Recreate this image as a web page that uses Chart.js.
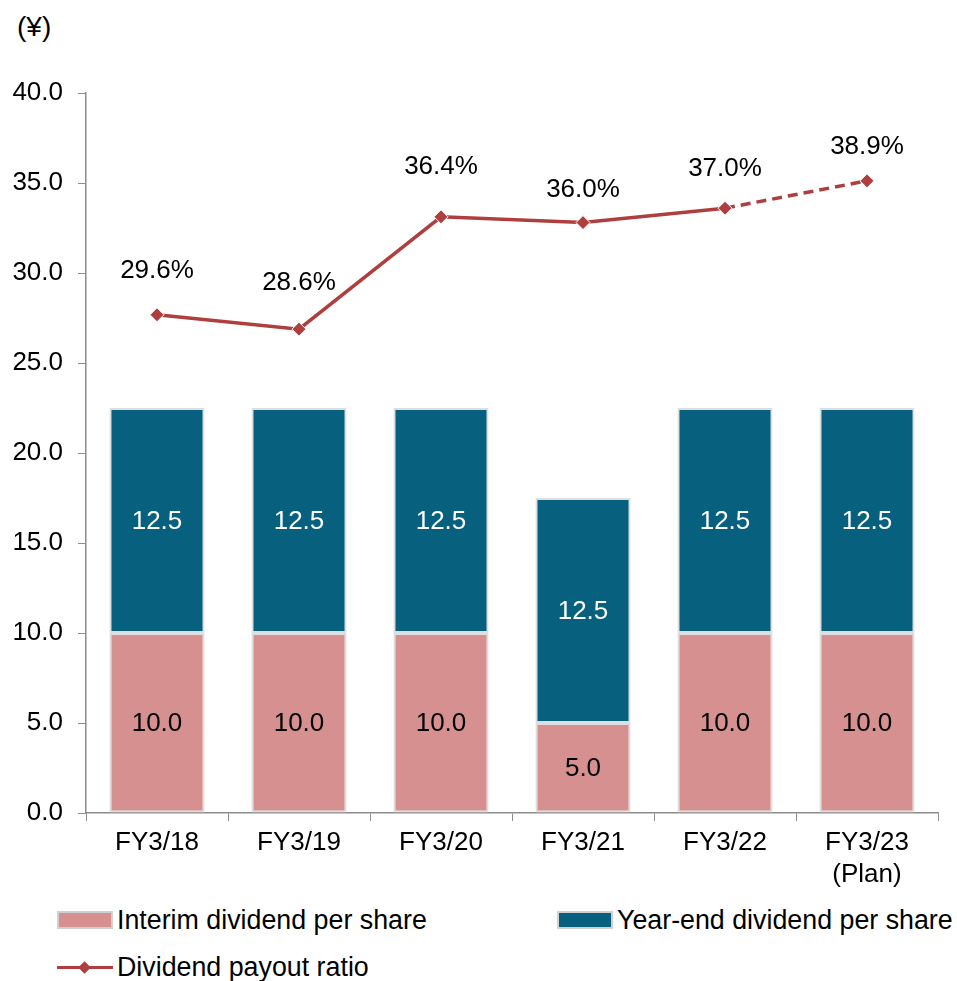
<!DOCTYPE html>
<html>
<head>
<meta charset="utf-8">
<script src="https://cdn.jsdelivr.net/npm/chart.js@4/dist/chart.umd.min.js"></script>
<style>
  html, body { margin: 0; padding: 0; background: #fff; }
  body { width: 957px; height: 981px; position: relative; overflow: hidden;
         font-family: "Liberation Sans", Arial, sans-serif; color: #000; }
  #unit { position: absolute; left: 17px; top: 10px; font-size: 28px; line-height: 34px; }
  #wrap { position: absolute; left: 0; top: 0; width: 957px; height: 900px; }
  .lg { position: absolute; display: flex; align-items: center; font-size: 26.8px; height: 34px; white-space: nowrap; }
  .box { width: 56px; height: 18px; box-sizing: border-box; border: 2px solid #d0d0d0; margin-right: 4px; }
  .ln { position: relative; width: 56px; height: 17px; margin-right: 4px; }
  .ln .bar { position: absolute; left: 0; right: 0; top: 7px; height: 3px; }
  .ln .dia { position: absolute; left: 23px; top: 4px; width: 9px; height: 9px; transform: rotate(45deg); }
</style>
</head>
<body>
<div id="unit">(¥)</div>
<div id="wrap"><canvas id="c" width="957" height="900"></canvas></div>
<div id="legend"></div>
<script>
// ---- data ----
const categories = ['FY3/18', 'FY3/19', 'FY3/20', 'FY3/21', 'FY3/22', ['FY3/23', '(Plan)']];
const interimDividend = [10.0, 10.0, 10.0, 5.0, 10.0, 10.0];
const yearEndDividend = [12.5, 12.5, 12.5, 12.5, 12.5, 12.5];
const payoutRatio = [29.6, 28.6, 36.4, 36.0, 37.0, 38.9];
const yTicks = [0, 5, 10, 15, 20, 25, 30, 35, 40];
const seriesNames = ['Interim dividend per share', 'Year-end dividend per share', 'Dividend payout ratio'];

// ---- styles ----
const PINK = '#D69090';
const TEAL = '#08607F';
const RED = '#AE3F3E';
const AXIS = '#8c8c8c';
const FONT = { family: '"Liberation Sans", Arial, sans-serif', size: 26 };
const ratioLabelLift = [44, 46, 50, 33, 39, 34]; // label placement above points (px)

const planStart = categories.findIndex(c => Array.isArray(c) && c.includes('(Plan)'));

const labelPlugin = {
  id: 'valueLabels',
  afterDatasetsDraw(chart) {
    const ctx = chart.ctx;
    ctx.save();
    ctx.font = `${FONT.size}px ${FONT.family}`;
    ctx.textAlign = 'center';
    ctx.textBaseline = 'middle';
    chart.data.datasets.forEach((ds, di) => {
      const meta = chart.getDatasetMeta(di);
      meta.data.forEach((el, i) => {
        const v = ds.data[i];
        if (ds.type === 'line') {
          ctx.fillStyle = '#000';
          ctx.fillText(v.toFixed(1) + '%', el.x, el.y - ratioLabelLift[i]);
        } else {
          ctx.fillStyle = ds.labelColor;
          ctx.fillText(v.toFixed(1), el.x, (el.y + el.base) / 2 + 1);
        }
      });
    });
    ctx.restore();
  }
};

const chart = new Chart(document.getElementById('c'), {
  data: {
    labels: categories,
    datasets: [
      {
        type: 'bar', label: seriesNames[0], data: interimDividend,
        backgroundColor: PINK, borderColor: '#dedede', borderWidth: 2, borderSkipped: false,
        barPercentage: 0.67, categoryPercentage: 1, order: 1, stack: 's', yAxisID: 'y', labelColor: '#000'
      },
      {
        type: 'bar', label: seriesNames[1], data: yearEndDividend,
        backgroundColor: TEAL, borderColor: '#dedede', borderWidth: 2, borderSkipped: false,
        barPercentage: 0.67, categoryPercentage: 1, order: 1, stack: 's', yAxisID: 'y', labelColor: '#fff'
      },
      {
        type: 'line', label: seriesNames[2], data: payoutRatio, yAxisID: 'y2', order: 0,
        borderColor: RED, backgroundColor: RED, borderWidth: 3.5, tension: 0,
        pointStyle: 'rectRot', pointRadius: 7, pointBackgroundColor: RED,
        pointBorderColor: '#fff', pointBorderWidth: 1,
        segment: { borderDash: c => (planStart >= 0 && c.p1DataIndex >= planStart) ? [10, 6] : undefined }
      }
    ]
  },
  options: {
    responsive: false,
    animation: false,
    layout: { padding: { top: 93, right: 19, bottom: 0, left: 0 } },
    plugins: { legend: { display: false }, tooltip: { enabled: false } },
    scales: {
      x: {
        stacked: true,
        grid: { offset: true, drawOnChartArea: false, drawTicks: true, tickLength: 8, color: AXIS, lineWidth: 1 },
        border: { display: true, color: AXIS, width: 1.5 },
        ticks: { font: { ...FONT, lineHeight: 1.22 }, color: '#000', padding: 6, maxRotation: 0, autoSkip: false },
        afterFit: s => { s.height = 900 - 813; }
      },
      y: {
        stacked: true, min: 0, max: 40,
        afterBuildTicks: s => { s.ticks = yTicks.map(v => ({ value: v })); },
        grid: { drawOnChartArea: false, drawTicks: true, tickLength: 8, color: AXIS },
        border: { display: true, color: AXIS, width: 1.5 },
        ticks: { font: FONT, color: '#000', padding: 15, callback: v => Number(v).toFixed(1) },
        afterFit: s => { s.width = 86; }
      },
      y2: { display: false, min: -5, max: 45 }
    }
  },
  plugins: [labelPlugin]
});

// ---- HTML legend built from the datasets ----
const legend = document.getElementById('legend');
const places = [
  { left: 57, top: 903 },
  { left: 557, top: 903 },
  { left: 57, top: 950 }
];
chart.data.datasets.forEach((ds, i) => {
  const item = document.createElement('div');
  item.className = 'lg';
  item.style.left = places[i].left + 'px';
  item.style.top = places[i].top + 'px';
  let sym;
  if (ds.type === 'line') {
    sym = document.createElement('div');
    sym.className = 'ln';
    sym.innerHTML = `<div class="bar" style="background:${ds.borderColor}"></div><div class="dia" style="background:${ds.borderColor}"></div>`;
  } else {
    sym = document.createElement('div');
    sym.className = 'box';
    sym.style.background = ds.backgroundColor;
  }
  const txt = document.createElement('span');
  txt.textContent = ds.label;
  item.appendChild(sym);
  item.appendChild(txt);
  legend.appendChild(item);
});
</script>
</body>
</html>
